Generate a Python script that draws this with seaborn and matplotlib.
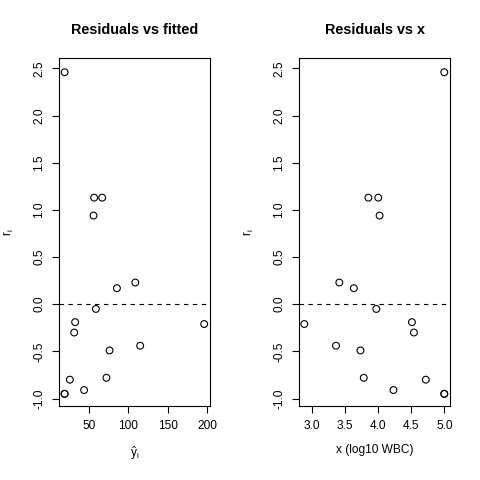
import numpy as np
import pandas as pd
import matplotlib
matplotlib.use("Agg")
import matplotlib.pyplot as plt
import seaborn as sns

# ---------- data ----------
log_wbc = [3.36, 2.88, 3.63, 3.41, 3.78, 4.02, 4.00, 4.23, 3.73,
           3.85, 3.97, 4.51, 4.54, 5.00, 5.00, 4.72, 5.00]
fitted = [115.0, 196.5, 85.4, 108.8, 72.0, 55.6, 56.4, 43.6, 76.0,
          66.6, 58.6, 32.2, 31.0, 18.8, 18.8, 25.5, 18.8]
resid = [-0.44, -0.21, 0.17, 0.23, -0.78, 0.94, 1.13, -0.91, -0.49,
         1.13, -0.05, -0.19, -0.30, -0.95, -0.95, -0.80, 2.46]

y_ticks = [-1.0, -0.5, 0.0, 0.5, 1.0, 1.5, 2.0, 2.5]
fit_ticks = [50, 100, 150, 200]
x_ticks = [3.0, 3.5, 4.0, 4.5, 5.0]

df = pd.DataFrame({"x": log_wbc, "fitted": fitted, "resid": resid})

# ---------- style ----------
sns.set_style("white")
plt.rcParams["font.family"] = ["Liberation Sans", "DejaVu Sans"]
plt.rcParams["mathtext.fontset"] = "custom"
plt.rcParams["mathtext.rm"] = "Liberation Sans"
plt.rcParams["mathtext.it"] = "Liberation Sans:italic"
plt.rcParams["text.color"] = "black"
plt.rcParams["axes.labelcolor"] = "black"
plt.rcParams["xtick.color"] = "black"
plt.rcParams["ytick.color"] = "black"

fig = plt.figure(figsize=(4.8, 4.8), dpi=100)
ax1 = fig.add_axes([0.123, 0.154, 0.315, 0.725])
ax2 = fig.add_axes([0.623, 0.154, 0.315, 0.725])

panels = [
    (ax1, "fitted", "Residuals vs fitted", r"$\mathrm{\hat{y}_i}$", fit_ticks, (11.7, 204.2), "{:g}"),
    (ax2, "x", "Residuals vs x", "x (log10 WBC)", x_ticks, (2.80, 5.09), "{:.1f}"),
]

for ax, col, title, xlabel, xt, xlim, fmt in panels:
    sns.scatterplot(data=df, x=col, y="resid", ax=ax, marker="o", s=24,
                    facecolor="none", edgecolor="black", linewidth=0.8)
    ax.axhline(0, color="black", linestyle=(0, (4, 4)), linewidth=0.8)
    ax.set_xlim(*xlim)
    ax.set_ylim(-1.08, 2.61)
    ax.set_xticks(xt)
    ax.set_xticklabels([fmt.format(v) for v in xt])
    ax.set_yticks(y_ticks)
    ax.set_yticklabels([f"{v:.1f}" for v in y_ticks], rotation=90, va="center")
    ax.tick_params(axis="both", direction="out", length=5, width=0.8,
                   labelsize=8.6, color="black", labelcolor="black", pad=5,
                   left=True, bottom=True)
    for sp in ax.spines.values():
        sp.set_color("black")
        sp.set_linewidth(0.8)
    ax.set_title(title, fontsize=10.4, fontweight="bold", pad=17, color="black")
    ax.set_xlabel(xlabel, fontsize=8.6, labelpad=9, color="black")
    ax.set_ylabel(r"$\mathrm{r_i}$", fontsize=8.6, labelpad=12, color="black")

fig.savefig("out.png", dpi=100)
